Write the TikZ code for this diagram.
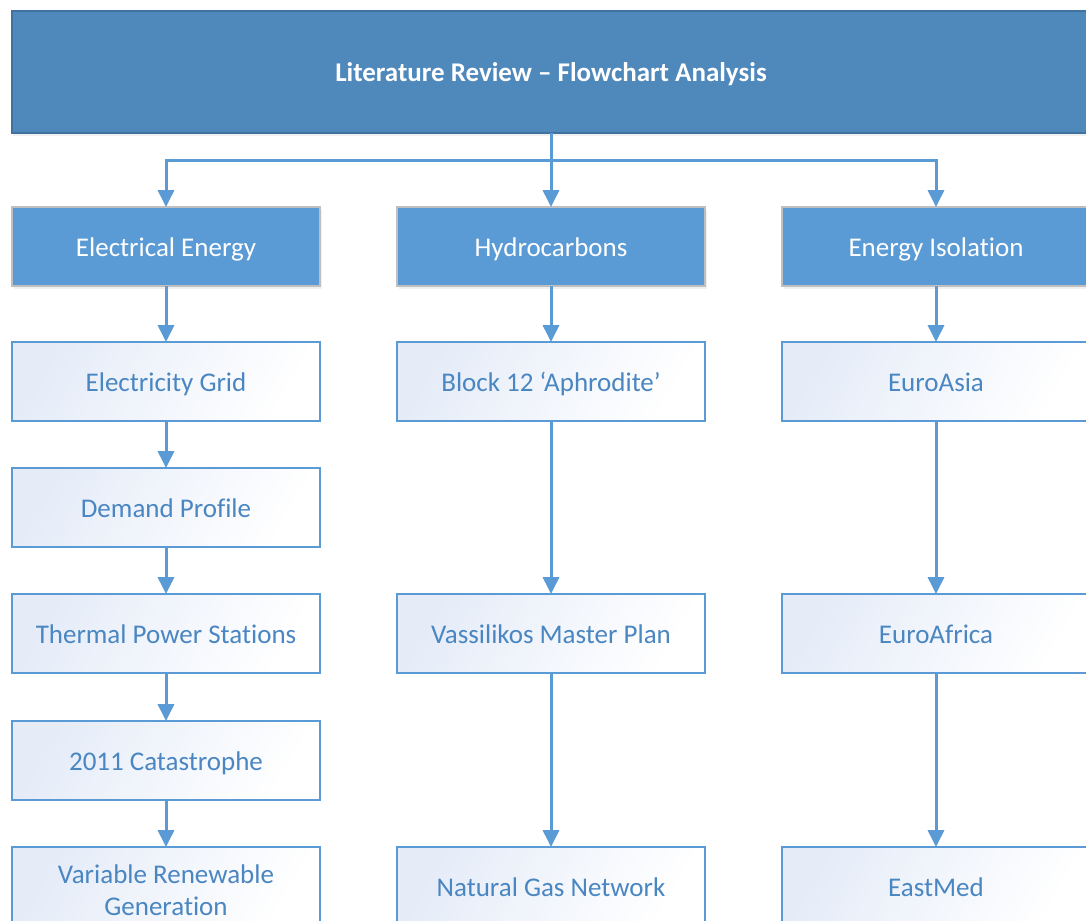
\documentclass[tikz,border=0pt]{standalone}
\usepackage{fontspec}
\setmainfont{Carlito}[Ligatures={TeX,NoCommon}]
\usetikzlibrary{arrows.meta}
\usetikzlibrary{positioning, shadows}

\definecolor{titlefill}{RGB}{79,136,187}
\definecolor{titleline}{RGB}{65,114,159}
\definecolor{headfill}{RGB}{91,155,213}
\definecolor{headline}{RGB}{191,191,191}
\definecolor{itemline}{RGB}{91,155,213}
\definecolor{itemtext}{RGB}{74,134,193}
\definecolor{itemtint}{RGB}{229,236,248}

\tikzset{
	titlebox/.style={
		draw=titleline,
		fill=titlefill,
		line width=0.05cm,
		outer sep=0pt,
		minimum width=26.95cm,
		minimum height=3.05cm,
		text height=0.475cm,
		text depth=0cm,
		text=white,
		font=\fontsize{19.2}{23}\selectfont\bfseries,
		drop shadow={shadow xshift=0.03cm, shadow yshift=-0.08cm, opacity=0.12}
	},
	headbox/.style={
		draw=headline,
		fill=headfill,
		line width=0.05cm,
		outer sep=0pt,
		minimum width=7.7cm,
		minimum height=1.975cm,
		text height=0.475cm,
		text depth=0cm,
		text=white,
		font=\fontsize{19.2}{23}\selectfont,
		drop shadow={shadow xshift=0.05cm, shadow yshift=-0.08cm, opacity=0.12}
	},
	itembox/.style={
		draw=itemline,
		left color=itemtint,
		right color=white,
		shading angle=60,
		line width=0.05cm,
		outer sep=0pt,
		minimum width=7.7cm,
		minimum height=1.975cm,
		text height=0.475cm,
		text depth=0cm,
		text=itemtext,
		font=\fontsize{19.2}{23}\selectfont
	},
	conn/.style={
		draw=itemline,
		line width=0.075cm,
		-{Triangle[width=0.4cm, length=0.42cm]}
	}
}

\begin{document}
\begin{tikzpicture}

	% The page is the size of the reference
	\useasboundingbox (0,0) rectangle (27.15,-23.025);
	\clip (0,0) rectangle (27.15,-23.025);

	% Draw the title
	\node[titlebox] (title) at (13.775,-1.8) {Literature Review -- Flowchart Analysis};

	% Draw the three headings
	\node[headbox] (elec) at (4.15,-6.1625) {Electrical Energy};
	\node[headbox] (hydro) at (13.775,-6.1625) {Hydrocarbons};
	\node[headbox] (iso) at (23.4,-6.1625) {Energy Isolation};

	% Electrical energy column
	\node[itembox, below=1.4cm of elec] (grid) {Electricity Grid};
	\node[itembox, below=1.175cm of grid] (demand) {Demand Profile};
	\node[itembox, below=1.175cm of demand] (thermal) {Thermal Power Stations};
	\node[itembox, below=1.2cm of thermal] (catas) {2011 Catastrophe};
	\node[itembox, below=1.175cm of catas] (vrg)
		{\raisebox{-0.1cm}{\begin{tabular}{@{}c@{}}Variable Renewable\\Generation\end{tabular}}};

	% Hydrocarbons column
	\node[itembox] (block) at (hydro |- grid) {Block 12 `Aphrodite'};
	\node[itembox] (vassil) at (hydro |- thermal) {Vassilikos Master Plan};
	\node[itembox] (gasnet) at (hydro |- vrg) {Natural Gas Network};

	% Energy isolation column
	\node[itembox] (eurasia) at (iso |- grid) {EuroAsia};
	\node[itembox] (eurafrica) at (iso |- thermal) {EuroAfrica};
	\node[itembox] (eastmed) at (iso |- vrg) {EastMed};

	% Connectors from the title
	\coordinate (split) at (13.775,-4.0);
	\draw[conn] (title.south) -- (hydro.north);
	\draw[conn] (split) -| (elec.north);
	\draw[conn] (split) -| (iso.north);

	% Connectors down each column
	\draw[conn] (elec) -- (grid);
	\draw[conn] (grid) -- (demand);
	\draw[conn] (demand) -- (thermal);
	\draw[conn] (thermal) -- (catas);
	\draw[conn] (catas) -- (vrg);

	\draw[conn] (hydro) -- (block);
	\draw[conn] (block) -- (vassil);
	\draw[conn] (vassil) -- (gasnet);

	\draw[conn] (iso) -- (eurasia);
	\draw[conn] (eurasia) -- (eurafrica);
	\draw[conn] (eurafrica) -- (eastmed);

\end{tikzpicture}
\end{document}
